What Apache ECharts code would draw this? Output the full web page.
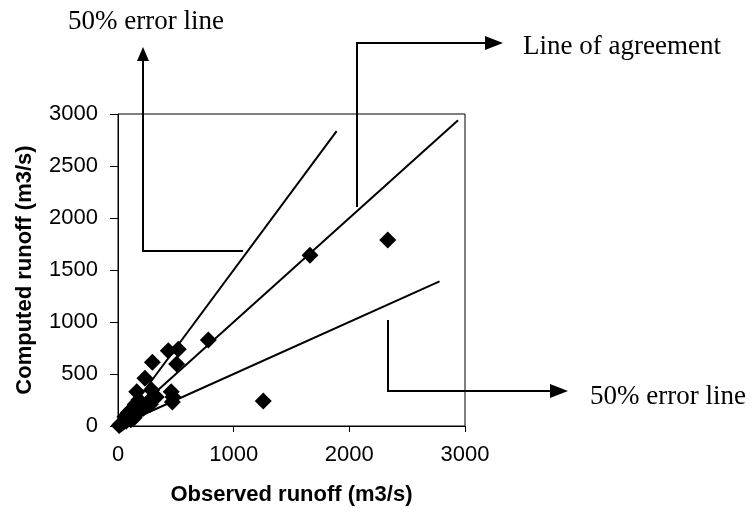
<!DOCTYPE html>
<html>
<head>
<meta charset="utf-8">
<script src="https://cdn.jsdelivr.net/npm/echarts@6/dist/echarts.min.js"></script>
<style>
  html, body { margin: 0; padding: 0; background: #fff; }
  #main { width: 754px; height: 514px; }
</style>
</head>
<body>
<div id="main"></div>
<script>
// observed vs computed runoff (m3/s)
var observed = [10, 25, 40, 55, 70, 85, 100, 115, 130, 145, 160, 175, 190, 205, 220, 240, 260, 280, 300, 330,
                60, 90, 120, 150, 180, 110, 140,
                162, 233, 297, 291, 435, 521, 507, 781,
                460, 475, 470, 1256, 1660, 2332];
var computed = [5, 20, 30, 50, 45, 80, 70, 110, 90, 140, 120, 170, 150, 200, 170, 190, 230, 210, 260, 280,
                90, 130, 160, 210, 250, 60, 80,
                330, 459, 612, 346, 724, 737, 596, 827,
                330, 280, 230, 240, 1641, 1788];

// reference lines: end points (observed, computed)
var agreementLine = [[0, 0], [2940, 2940]];
var upperErrorLine = [[0, 0], [1890, 2835]];
var lowerErrorLine = [[0, 0], [2780, 1390]];

var xTicks = [0, 1000, 2000, 3000];
var yTicks = [0, 500, 1000, 1500, 2000, 2500, 3000];

var points = observed.map(function (v, i) { return [v, computed[i]]; });

var chart = echarts.init(document.getElementById('main'));

function lineSeries(d) {
  return {
    type: 'line',
    data: d,
    symbol: 'none',
    silent: true,
    lineStyle: { color: '#000', width: 2 },
    z: 2
  };
}

// arrow helper for the annotation callouts (pixel positions)
function arrow(pts, dir) {
  var tip = pts[pts.length - 1];
  var head;
  if (dir === 'up') {
    head = [[tip[0], tip[1]], [tip[0] - 6, tip[1] + 14], [tip[0] + 6, tip[1] + 14]];
  } else {
    head = [[tip[0], tip[1]], [tip[0] - 18, tip[1] - 7], [tip[0] - 18, tip[1] + 7]];
  }
  var body = pts.slice();
  body[body.length - 1] = dir === 'up' ? [tip[0], tip[1] + 12] : [tip[0] - 16, tip[1]];
  return [
    { type: 'polyline', shape: { points: body }, style: { stroke: '#000', lineWidth: 2, fill: null }, z: 10 },
    { type: 'polygon', shape: { points: head }, style: { fill: '#000' }, z: 10 }
  ];
}

function label(txt, x, y) {
  return {
    type: 'text', x: x, y: y, z: 10,
    style: {
      text: txt, fill: '#000', verticalAlign: 'middle',
      font: '27px "Liberation Serif", "DejaVu Serif", serif'
    }
  };
}

var graphics = []
  .concat(arrow([[243, 251], [143, 251], [143, 47]], 'up'))
  .concat(arrow([[357, 207], [357, 43], [503, 43]], 'right'))
  .concat(arrow([[388, 320], [388, 391], [568, 391]], 'right'))
  .concat([
    label('50% error line', 68, 22),
    label('Line of agreement', 523, 47),
    label('50% error line', 590, 397)
  ]);

var axisFont = 'Liberation Sans, Arial, sans-serif';
function plain(v) { return String(v); }

chart.setOption({
  animation: false,
  backgroundColor: '#fff',
  grid: {
    left: 118, right: 289, top: 114, bottom: 88,
    show: true, borderColor: '#000', borderWidth: 1
  },
  xAxis: {
    type: 'value',
    min: xTicks[0], max: xTicks[xTicks.length - 1], interval: 1000,
    name: 'Observed runoff (m3/s)',
    nameLocation: 'middle', nameGap: 58,
    nameTextStyle: { color: '#000', fontSize: 22, fontWeight: 'bold', fontFamily: axisFont },
    axisLine: { lineStyle: { color: '#000', width: 1 } },
    axisTick: { show: true, length: 6, lineStyle: { color: '#000' } },
    axisLabel: { color: '#000', fontSize: 22, margin: 18, fontFamily: axisFont, formatter: plain },
    splitLine: { show: false }
  },
  yAxis: {
    type: 'value',
    min: yTicks[0], max: yTicks[yTicks.length - 1], interval: 500,
    name: 'Computed runoff (m3/s)',
    nameLocation: 'middle', nameGap: 82,
    nameTextStyle: { color: '#000', fontSize: 22, fontWeight: 'bold', fontFamily: axisFont },
    axisLine: { lineStyle: { color: '#000', width: 1 } },
    axisTick: { show: true, length: 8, lineStyle: { color: '#000' } },
    axisLabel: { color: '#000', fontSize: 22, margin: 20, fontFamily: axisFont, formatter: plain },
    splitLine: { show: false }
  },
  series: [
    lineSeries(agreementLine),
    lineSeries(upperErrorLine),
    lineSeries(lowerErrorLine),
    {
      type: 'scatter',
      data: points,
      symbol: 'diamond',
      symbolSize: 17,
      itemStyle: { color: '#000', opacity: 1 },
      z: 3
    }
  ],
  graphic: graphics
});
</script>
</body>
</html>
